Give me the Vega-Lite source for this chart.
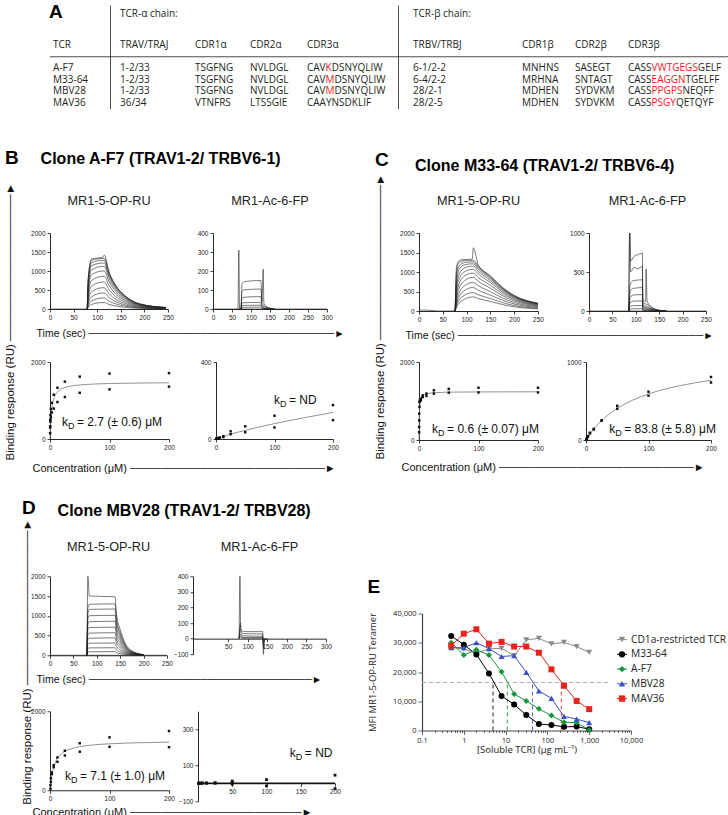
{
  "$schema": "https://vega.github.io/schema/vega-lite/v6.json",
  "padding": {"left": 5, "top": 3, "right": 0, "bottom": 0},
  "spacing": 25,
  "vconcat": [
    {
      "title": {"text": "\u200b", "orient": "bottom", "fontSize": 10, "offset": 4},
      "spacing": 0,
      "bounds": "flush",
      "hconcat": [
        {
          "width": 60, "height": 103.5, "data": {"name": "tcr"},
          "layer": [
            {"transform": [{"filter": "isValid(datum.TCR)"}],
             "mark": {"type": "text", "align": "left", "baseline": "middle", "font": "Open Sans", "fontSize": 10, "color": "#231f20", "dx": 3},
             "encoding": {"x": {"datum": 0, "type": "quantitative", "scale": {"domain": [0, 1]}, "axis": null},
                          "y": {"field": "row", "type": "nominal", "scale": {"type": "point", "domain": ["t", "chain", "g", "name", "line", "A-F7", "M33-64", "MBV28", "MAV36"], "padding": 0.5}, "axis": null},
                          "text": {"field": "TCR"}}},
            {"transform": [{"filter": "isValid(datum.panel)"}],
             "mark": {"type": "text", "align": "left", "baseline": "middle", "font": "Liberation Sans", "fontSize": 19, "fontWeight": "bold", "color": "#000", "dx": -1, "dy": -10},
             "encoding": {"x": {"datum": 0, "type": "quantitative", "scale": {"domain": [0, 1]}, "axis": null},
                          "y": {"field": "row", "type": "nominal", "scale": {"type": "point", "domain": ["t", "chain", "g", "name", "line", "A-F7", "M33-64", "MBV28", "MAV36"], "padding": 0.5}, "axis": null},
                          "text": {"field": "panel"}}},
            {"data": {"values": [{}]}, "mark": {"type": "rule", "color": "#231f20", "strokeWidth": 0.8},
             "encoding": {"y": {"datum": "line", "type": "nominal", "scale": {"type": "point", "domain": ["t", "chain", "g", "name", "line", "A-F7", "M33-64", "MBV28", "MAV36"], "padding": 0.5}, "axis": null}}}
          ]
        },
        {
          "width": 85, "height": 103.5, "data": {"name": "tcr"},
          "layer": [
            {"transform": [{"filter": "isValid(datum.TRAV)"}],
             "mark": {"type": "text", "align": "left", "baseline": "middle", "font": "Open Sans", "fontSize": 10, "color": "#231f20", "dx": 10},
             "encoding": {"x": {"datum": 0, "type": "quantitative", "scale": {"domain": [0, 1]}, "axis": null},
                          "y": {"field": "row", "type": "nominal", "scale": {"type": "point", "domain": ["t", "chain", "g", "name", "line", "A-F7", "M33-64", "MBV28", "MAV36"], "padding": 0.5}, "axis": {"domain": true, "ticks": false, "labels": false, "title": null, "domainColor": "#231f20", "domainWidth": 0.8}},
                          "text": {"field": "TRAV"}}},
            {"transform": [{"filter": "isValid(datum.hdrA)"}],
             "mark": {"type": "text", "align": "left", "baseline": "middle", "font": "Open Sans", "fontSize": 10, "color": "#231f20", "dx": 10, "dy": -8},
             "encoding": {"x": {"datum": 0, "type": "quantitative", "scale": {"domain": [0, 1]}, "axis": null},
                          "y": {"field": "row", "type": "nominal", "scale": {"type": "point", "domain": ["t", "chain", "g", "name", "line", "A-F7", "M33-64", "MBV28", "MAV36"], "padding": 0.5}, "axis": {"domain": true, "ticks": false, "labels": false, "title": null, "domainColor": "#231f20", "domainWidth": 0.8}},
                          "text": {"field": "hdrA"}}},
            {"data": {"values": [{}]}, "mark": {"type": "rule", "color": "#231f20", "strokeWidth": 0.8},
             "encoding": {"y": {"datum": "line", "type": "nominal", "scale": {"type": "point", "domain": ["t", "chain", "g", "name", "line", "A-F7", "M33-64", "MBV28", "MAV36"], "padding": 0.5}, "axis": {"domain": true, "ticks": false, "labels": false, "title": null, "domainColor": "#231f20", "domainWidth": 0.8}}}}
          ]
        },
        {
          "width": 55, "height": 103.5, "data": {"name": "tcr"},
          "layer": [
            {"transform": [{"filter": "isValid(datum.CDR1a)"}],
             "mark": {"type": "text", "align": "left", "baseline": "middle", "font": "Open Sans", "fontSize": 10, "color": "#231f20"},
             "encoding": {"x": {"datum": 0, "type": "quantitative", "scale": {"domain": [0, 1]}, "axis": null},
                          "y": {"field": "row", "type": "nominal", "scale": {"type": "point", "domain": ["t", "chain", "g", "name", "line", "A-F7", "M33-64", "MBV28", "MAV36"], "padding": 0.5}, "axis": null},
                          "text": {"field": "CDR1a"}}},
            {"data": {"values": [{}]}, "mark": {"type": "rule", "color": "#231f20", "strokeWidth": 0.8},
             "encoding": {"y": {"datum": "line", "type": "nominal", "scale": {"type": "point", "domain": ["t", "chain", "g", "name", "line", "A-F7", "M33-64", "MBV28", "MAV36"], "padding": 0.5}, "axis": null}}}
          ]
        },
        {
          "width": 57, "height": 103.5, "data": {"name": "tcr"},
          "layer": [
            {"transform": [{"filter": "isValid(datum.CDR2a)"}],
             "mark": {"type": "text", "align": "left", "baseline": "middle", "font": "Open Sans", "fontSize": 10, "color": "#231f20"},
             "encoding": {"x": {"datum": 0, "type": "quantitative", "scale": {"domain": [0, 1]}, "axis": null},
                          "y": {"field": "row", "type": "nominal", "scale": {"type": "point", "domain": ["t", "chain", "g", "name", "line", "A-F7", "M33-64", "MBV28", "MAV36"], "padding": 0.5}, "axis": null},
                          "text": {"field": "CDR2a"}}},
            {"data": {"values": [{}]}, "mark": {"type": "rule", "color": "#231f20", "strokeWidth": 0.8},
             "encoding": {"y": {"datum": "line", "type": "nominal", "scale": {"type": "point", "domain": ["t", "chain", "g", "name", "line", "A-F7", "M33-64", "MBV28", "MAV36"], "padding": 0.5}, "axis": null}}}
          ]
        },
        {
          "width": 91, "height": 103.5, "data": {"name": "tcr"},
          "layer": [
            {"transform": [{"filter": "isValid(datum.CDR3a)"}],
             "mark": {"type": "text", "align": "left", "baseline": "middle", "font": "Open Sans", "fontSize": 10, "color": "#231f20"},
             "encoding": {"x": {"datum": 0, "type": "quantitative", "scale": {"domain": [0, 1]}, "axis": null},
                          "y": {"field": "row", "type": "nominal", "scale": {"type": "point", "domain": ["t", "chain", "g", "name", "line", "A-F7", "M33-64", "MBV28", "MAV36"], "padding": 0.5}, "axis": null},
                          "text": {"field": "CDR3a"}}},
            {"transform": [{"filter": "isValid(datum.CDR3a_hi)"}],
             "mark": {"type": "text", "align": "left", "baseline": "middle", "font": "Open Sans", "fontSize": 10, "color": "#ffffff", "stroke": "#ffffff", "strokeWidth": 1.4},
             "encoding": {"x": {"datum": 0, "type": "quantitative", "scale": {"domain": [0, 1]}, "axis": null},
                          "y": {"field": "row", "type": "nominal", "scale": {"type": "point", "domain": ["t", "chain", "g", "name", "line", "A-F7", "M33-64", "MBV28", "MAV36"], "padding": 0.5}, "axis": null},
                          "text": {"field": "CDR3a_hi"}}},
            {"transform": [{"filter": "isValid(datum.CDR3a_hi)"}],
             "mark": {"type": "text", "align": "left", "baseline": "middle", "font": "Open Sans", "fontSize": 10, "color": "#ed1c24"},
             "encoding": {"x": {"datum": 0, "type": "quantitative", "scale": {"domain": [0, 1]}, "axis": null},
                          "y": {"field": "row", "type": "nominal", "scale": {"type": "point", "domain": ["t", "chain", "g", "name", "line", "A-F7", "M33-64", "MBV28", "MAV36"], "padding": 0.5}, "axis": null},
                          "text": {"field": "CDR3a_hi"}}},
            {"transform": [{"filter": "isValid(datum.CDR3a_pre)"}],
             "mark": {"type": "text", "align": "left", "baseline": "middle", "font": "Open Sans", "fontSize": 10, "color": "#ffffff", "stroke": "#ffffff", "strokeWidth": 1.4},
             "encoding": {"x": {"datum": 0, "type": "quantitative", "scale": {"domain": [0, 1]}, "axis": null},
                          "y": {"field": "row", "type": "nominal", "scale": {"type": "point", "domain": ["t", "chain", "g", "name", "line", "A-F7", "M33-64", "MBV28", "MAV36"], "padding": 0.5}, "axis": null},
                          "text": {"field": "CDR3a_pre"}}},
            {"transform": [{"filter": "isValid(datum.CDR3a_pre)"}],
             "mark": {"type": "text", "align": "left", "baseline": "middle", "font": "Open Sans", "fontSize": 10, "color": "#231f20"},
             "encoding": {"x": {"datum": 0, "type": "quantitative", "scale": {"domain": [0, 1]}, "axis": null},
                          "y": {"field": "row", "type": "nominal", "scale": {"type": "point", "domain": ["t", "chain", "g", "name", "line", "A-F7", "M33-64", "MBV28", "MAV36"], "padding": 0.5}, "axis": null},
                          "text": {"field": "CDR3a_pre"}}},
            {"data": {"values": [{}]}, "mark": {"type": "rule", "color": "#231f20", "strokeWidth": 0.8},
             "encoding": {"y": {"datum": "line", "type": "nominal", "scale": {"type": "point", "domain": ["t", "chain", "g", "name", "line", "A-F7", "M33-64", "MBV28", "MAV36"], "padding": 0.5}, "axis": null}}}
          ]
        },
        {
          "width": 124, "height": 103.5, "data": {"name": "tcr"},
          "layer": [
            {"transform": [{"filter": "isValid(datum.TRBV)"}],
             "mark": {"type": "text", "align": "left", "baseline": "middle", "font": "Open Sans", "fontSize": 10, "color": "#231f20", "dx": 15},
             "encoding": {"x": {"datum": 0, "type": "quantitative", "scale": {"domain": [0, 1]}, "axis": null},
                          "y": {"field": "row", "type": "nominal", "scale": {"type": "point", "domain": ["t", "chain", "g", "name", "line", "A-F7", "M33-64", "MBV28", "MAV36"], "padding": 0.5}, "axis": {"domain": true, "ticks": false, "labels": false, "title": null, "domainColor": "#231f20", "domainWidth": 0.8}},
                          "text": {"field": "TRBV"}}},
            {"transform": [{"filter": "isValid(datum.hdrB)"}],
             "mark": {"type": "text", "align": "left", "baseline": "middle", "font": "Open Sans", "fontSize": 10, "color": "#231f20", "dx": 15, "dy": -8},
             "encoding": {"x": {"datum": 0, "type": "quantitative", "scale": {"domain": [0, 1]}, "axis": null},
                          "y": {"field": "row", "type": "nominal", "scale": {"type": "point", "domain": ["t", "chain", "g", "name", "line", "A-F7", "M33-64", "MBV28", "MAV36"], "padding": 0.5}, "axis": {"domain": true, "ticks": false, "labels": false, "title": null, "domainColor": "#231f20", "domainWidth": 0.8}},
                          "text": {"field": "hdrB"}}},
            {"data": {"values": [{}]}, "mark": {"type": "rule", "color": "#231f20", "strokeWidth": 0.8},
             "encoding": {"y": {"datum": "line", "type": "nominal", "scale": {"type": "point", "domain": ["t", "chain", "g", "name", "line", "A-F7", "M33-64", "MBV28", "MAV36"], "padding": 0.5}, "axis": {"domain": true, "ticks": false, "labels": false, "title": null, "domainColor": "#231f20", "domainWidth": 0.8}}}}
          ]
        },
        {
          "width": 53, "height": 103.5, "data": {"name": "tcr"},
          "layer": [
            {"transform": [{"filter": "isValid(datum.CDR1b)"}],
             "mark": {"type": "text", "align": "left", "baseline": "middle", "font": "Open Sans", "fontSize": 10, "color": "#231f20"},
             "encoding": {"x": {"datum": 0, "type": "quantitative", "scale": {"domain": [0, 1]}, "axis": null},
                          "y": {"field": "row", "type": "nominal", "scale": {"type": "point", "domain": ["t", "chain", "g", "name", "line", "A-F7", "M33-64", "MBV28", "MAV36"], "padding": 0.5}, "axis": null},
                          "text": {"field": "CDR1b"}}},
            {"data": {"values": [{}]}, "mark": {"type": "rule", "color": "#231f20", "strokeWidth": 0.8},
             "encoding": {"y": {"datum": "line", "type": "nominal", "scale": {"type": "point", "domain": ["t", "chain", "g", "name", "line", "A-F7", "M33-64", "MBV28", "MAV36"], "padding": 0.5}, "axis": null}}}
          ]
        },
        {
          "width": 53, "height": 103.5, "data": {"name": "tcr"},
          "layer": [
            {"transform": [{"filter": "isValid(datum.CDR2b)"}],
             "mark": {"type": "text", "align": "left", "baseline": "middle", "font": "Open Sans", "fontSize": 10, "color": "#231f20"},
             "encoding": {"x": {"datum": 0, "type": "quantitative", "scale": {"domain": [0, 1]}, "axis": null},
                          "y": {"field": "row", "type": "nominal", "scale": {"type": "point", "domain": ["t", "chain", "g", "name", "line", "A-F7", "M33-64", "MBV28", "MAV36"], "padding": 0.5}, "axis": null},
                          "text": {"field": "CDR2b"}}},
            {"data": {"values": [{}]}, "mark": {"type": "rule", "color": "#231f20", "strokeWidth": 0.8},
             "encoding": {"y": {"datum": "line", "type": "nominal", "scale": {"type": "point", "domain": ["t", "chain", "g", "name", "line", "A-F7", "M33-64", "MBV28", "MAV36"], "padding": 0.5}, "axis": null}}}
          ]
        },
        {
          "width": 122, "height": 103.5, "data": {"name": "tcr"},
          "layer": [
            {"transform": [{"filter": "isValid(datum.CDR3b)"}],
             "mark": {"type": "text", "align": "left", "baseline": "middle", "font": "Open Sans", "fontSize": 10, "color": "#231f20"},
             "encoding": {"x": {"datum": 0, "type": "quantitative", "scale": {"domain": [0, 1]}, "axis": null},
                          "y": {"field": "row", "type": "nominal", "scale": {"type": "point", "domain": ["t", "chain", "g", "name", "line", "A-F7", "M33-64", "MBV28", "MAV36"], "padding": 0.5}, "axis": null},
                          "text": {"field": "CDR3b"}}},
            {"transform": [{"filter": "isValid(datum.CDR3b_hi)"}],
             "mark": {"type": "text", "align": "left", "baseline": "middle", "font": "Open Sans", "fontSize": 10, "color": "#ffffff", "stroke": "#ffffff", "strokeWidth": 1.4},
             "encoding": {"x": {"datum": 0, "type": "quantitative", "scale": {"domain": [0, 1]}, "axis": null},
                          "y": {"field": "row", "type": "nominal", "scale": {"type": "point", "domain": ["t", "chain", "g", "name", "line", "A-F7", "M33-64", "MBV28", "MAV36"], "padding": 0.5}, "axis": null},
                          "text": {"field": "CDR3b_hi"}}},
            {"transform": [{"filter": "isValid(datum.CDR3b_hi)"}],
             "mark": {"type": "text", "align": "left", "baseline": "middle", "font": "Open Sans", "fontSize": 10, "color": "#ed1c24"},
             "encoding": {"x": {"datum": 0, "type": "quantitative", "scale": {"domain": [0, 1]}, "axis": null},
                          "y": {"field": "row", "type": "nominal", "scale": {"type": "point", "domain": ["t", "chain", "g", "name", "line", "A-F7", "M33-64", "MBV28", "MAV36"], "padding": 0.5}, "axis": null},
                          "text": {"field": "CDR3b_hi"}}},
            {"transform": [{"filter": "isValid(datum.CDR3b_pre)"}],
             "mark": {"type": "text", "align": "left", "baseline": "middle", "font": "Open Sans", "fontSize": 10, "color": "#ffffff", "stroke": "#ffffff", "strokeWidth": 1.4},
             "encoding": {"x": {"datum": 0, "type": "quantitative", "scale": {"domain": [0, 1]}, "axis": null},
                          "y": {"field": "row", "type": "nominal", "scale": {"type": "point", "domain": ["t", "chain", "g", "name", "line", "A-F7", "M33-64", "MBV28", "MAV36"], "padding": 0.5}, "axis": null},
                          "text": {"field": "CDR3b_pre"}}},
            {"transform": [{"filter": "isValid(datum.CDR3b_pre)"}],
             "mark": {"type": "text", "align": "left", "baseline": "middle", "font": "Open Sans", "fontSize": 10, "color": "#231f20"},
             "encoding": {"x": {"datum": 0, "type": "quantitative", "scale": {"domain": [0, 1]}, "axis": null},
                          "y": {"field": "row", "type": "nominal", "scale": {"type": "point", "domain": ["t", "chain", "g", "name", "line", "A-F7", "M33-64", "MBV28", "MAV36"], "padding": 0.5}, "axis": null},
                          "text": {"field": "CDR3b_pre"}}},
            {"data": {"values": [{}]}, "mark": {"type": "rule", "color": "#231f20", "strokeWidth": 0.8},
             "encoding": {"y": {"datum": "line", "type": "nominal", "scale": {"type": "point", "domain": ["t", "chain", "g", "name", "line", "A-F7", "M33-64", "MBV28", "MAV36"], "padding": 0.5}, "axis": null}}}
          ]
        }
      ]
    },
    {
      "spacing": 30,
      "hconcat": [
        {
          "title": {"text": "B", "subtitle": "\u200b\u00a0\u00a0\u00a0\u00a0\u00a0\u00a0\u00a0\u00a0Clone A-F7 (TRAV1-2/ TRBV6-1)", "anchor": "start", "fontSize": 19, "fontWeight": "bold", "color": "#000", "subtitleFontSize": 16, "subtitleFontWeight": "bold", "subtitleColor": "#000", "subtitleFont": "Liberation Sans", "subtitlePadding": -17, "offset": 15},
          "vconcat": [
            {
              "title": {"text": "Binding response (RU) ──────────────────►", "orient": "left", "anchor": "start", "fontSize": 11.5, "color": "#111", "offset": 14, "dx": 13},
              "spacing": 20,
              "vconcat": [
                {
                  "title": {"text": "Time (sec) ─────────────────────────────────►", "orient": "bottom", "anchor": "start", "fontSize": 10.5, "color": "#111", "offset": 8, "dx": 6},
                  "spacing": 23,
                  "hconcat": [
                    {
                      "title": {"text": "MR1-5-OP-RU", "fontSize": 12.7, "offset": 22, "frame": "group", "color": "#222"},
                      "width": 118, "height": 76, "data": {"name": "sB1"},
                      "mark": {"type": "line", "color": "#222", "strokeWidth": 0.6, "interpolate": "monotone"},
                      "encoding": {
                        "x": {"field": "t", "type": "quantitative", "title": null, "scale": {"domain": [0, 250], "nice": false}, "axis": {"values": [0, 50, 100, 150, 200, 250]}},
                        "y": {"field": "r", "type": "quantitative", "title": null, "scale": {"domain": [0, 2000], "nice": false}, "axis": {"values": [0, 500, 1000, 1500, 2000]}},
                        "detail": {"field": "k", "type": "nominal"}
                      }
                    },
                    {
                      "title": {"text": "MR1-Ac-6-FP", "fontSize": 12.7, "offset": 22, "frame": "group", "color": "#222"},
                      "width": 114, "height": 76, "data": {"name": "sB2"},
                      "mark": {"type": "line", "color": "#222", "strokeWidth": 0.6, "interpolate": "monotone"},
                      "encoding": {
                        "x": {"field": "t", "type": "quantitative", "title": null, "scale": {"domain": [0, 300], "nice": false}, "axis": {"values": [0, 50, 100, 150, 200, 250, 300]}},
                        "y": {"field": "r", "type": "quantitative", "title": null, "scale": {"domain": [0, 400], "nice": false}, "axis": {"values": [0, 100, 200, 300, 400]}},
                        "detail": {"field": "k", "type": "nominal"}
                      }
                    }
                  ]
                },
                {
                  "title": {"text": "Concentration (μM) ─────────────────────────►", "orient": "bottom", "anchor": "start", "fontSize": 11, "color": "#111", "offset": 12, "dx": 2},
                  "spacing": 25,
                  "hconcat": [
                    {
                      "width": 119, "height": 77,
                      "layer": [
                        {"data": {"name": "fB1"}, "mark": {"type": "line", "color": "#777", "strokeWidth": 0.8, "interpolate": "monotone"},
                         "encoding": {"x": {"field": "c", "type": "quantitative", "title": null, "scale": {"domain": [0, 200], "nice": false}, "axis": {"values": [0, 50, 100, 150, 200]}},
                                      "y": {"field": "r", "type": "quantitative", "title": null, "scale": {"domain": [0, 2000], "nice": false}, "axis": {"values": [0, 500, 1000, 1500, 2000]}}}},
                        {"data": {"name": "bB1"}, "mark": {"type": "point", "shape": "square", "filled": true, "size": 6, "color": "#111", "opacity": 1},
                         "encoding": {"x": {"field": "c", "type": "quantitative"}, "y": {"field": "r", "type": "quantitative"}}},
                        {"data": {"values": [{}]}, "mark": {"type": "text", "align": "left", "baseline": "alphabetic", "fontSize": 12},
                         "encoding": {"x": {"datum": 20, "type": "quantitative"}, "y": {"datum": 330, "type": "quantitative"}, "text": {"value": "k"}}},
                        {"data": {"values": [{}]}, "mark": {"type": "text", "align": "left", "baseline": "alphabetic", "fontSize": 9, "dx": 6, "dy": 3},
                         "encoding": {"x": {"datum": 20, "type": "quantitative"}, "y": {"datum": 330, "type": "quantitative"}, "text": {"value": "D"}}},
                        {"data": {"values": [{}]}, "mark": {"type": "text", "align": "left", "baseline": "alphabetic", "fontSize": 12, "dx": 15},
                         "encoding": {"x": {"datum": 20, "type": "quantitative"}, "y": {"datum": 330, "type": "quantitative"}, "text": {"value": "= 2.7 (± 0.6) μM"}}}
                      ]
                    },
                    {
                      "width": 117, "height": 77,
                      "layer": [
                        {"data": {"name": "fB2"}, "mark": {"type": "line", "color": "#777", "strokeWidth": 0.8, "interpolate": "monotone"},
                         "encoding": {"x": {"field": "c", "type": "quantitative", "title": null, "scale": {"domain": [0, 200], "nice": false}, "axis": {"values": [0, 50, 100, 150, 200]}},
                                      "y": {"field": "r", "type": "quantitative", "title": null, "scale": {"domain": [0, 400], "nice": false}, "axis": {"values": [0, 100, 200, 300, 400]}}}},
                        {"data": {"name": "bB2"}, "mark": {"type": "point", "shape": "square", "filled": true, "size": 6, "color": "#111", "opacity": 1},
                         "encoding": {"x": {"field": "c", "type": "quantitative"}, "y": {"field": "r", "type": "quantitative"}}},
                        {"data": {"values": [{}]}, "mark": {"type": "text", "align": "left", "baseline": "alphabetic", "fontSize": 12},
                         "encoding": {"x": {"datum": 99, "type": "quantitative"}, "y": {"datum": 180, "type": "quantitative"}, "text": {"value": "k"}}},
                        {"data": {"values": [{}]}, "mark": {"type": "text", "align": "left", "baseline": "alphabetic", "fontSize": 9, "dx": 6, "dy": 3},
                         "encoding": {"x": {"datum": 99, "type": "quantitative"}, "y": {"datum": 180, "type": "quantitative"}, "text": {"value": "D"}}},
                        {"data": {"values": [{}]}, "mark": {"type": "text", "align": "left", "baseline": "alphabetic", "fontSize": 12, "dx": 15},
                         "encoding": {"x": {"datum": 99, "type": "quantitative"}, "y": {"datum": 180, "type": "quantitative"}, "text": {"value": "= ND"}}}
                      ]
                    }
                  ]
                }
              ]
            }
          ]
        },
        {
          "title": {"text": "C", "subtitle": "\u200b\u00a0\u00a0\u00a0\u00a0\u00a0\u00a0\u00a0\u00a0\u00a0Clone M33-64 (TRAV1-2/ TRBV6-4)", "anchor": "start", "fontSize": 19, "fontWeight": "bold", "color": "#000", "subtitleFontSize": 16, "subtitleFontWeight": "bold", "subtitleColor": "#000", "subtitleFont": "Liberation Sans", "subtitlePadding": -12, "offset": -16},
          "vconcat": [
            {
              "title": {"text": "Binding response (RU) ───────────────────►\u00a0\u00a0\u00a0\u00a0\u00a0\u200b", "orient": "left", "anchor": "start", "fontSize": 11.5, "color": "#111", "offset": 13, "dx": 13},
              "spacing": 18,
              "vconcat": [
                {
                  "title": {"text": "Time (sec) ─────────────────────────────────►", "orient": "bottom", "anchor": "start", "fontSize": 10.5, "color": "#111", "offset": 8, "dx": 6},
                  "spacing": 25,
                  "hconcat": [
                    {
                      "title": {"text": "MR1-5-OP-RU", "fontSize": 12.7, "offset": 22, "frame": "group", "color": "#222"},
                      "width": 119, "height": 78, "data": {"name": "sC1"},
                      "mark": {"type": "line", "color": "#222", "strokeWidth": 0.6, "interpolate": "monotone"},
                      "encoding": {
                        "x": {"field": "t", "type": "quantitative", "title": null, "scale": {"domain": [0, 250], "nice": false}, "axis": {"values": [0, 50, 100, 150, 200, 250]}},
                        "y": {"field": "r", "type": "quantitative", "title": null, "scale": {"domain": [0, 2000], "nice": false}, "axis": {"values": [0, 500, 1000, 1500, 2000]}},
                        "detail": {"field": "k", "type": "nominal"}
                      }
                    },
                    {
                      "title": {"text": "MR1-Ac-6-FP", "fontSize": 12.7, "offset": 22, "frame": "group", "color": "#222"},
                      "width": 117, "height": 78, "data": {"name": "sC2"},
                      "mark": {"type": "line", "color": "#222", "strokeWidth": 0.6, "interpolate": "monotone"},
                      "encoding": {
                        "x": {"field": "t", "type": "quantitative", "title": null, "scale": {"domain": [0, 250], "nice": false}, "axis": {"values": [0, 50, 100, 150, 200, 250]}},
                        "y": {"field": "r", "type": "quantitative", "title": null, "scale": {"domain": [0, 1000], "nice": false}, "axis": {"values": [0, 500, 1000]}},
                        "detail": {"field": "k", "type": "nominal"}
                      }
                    }
                  ]
                },
                {
                  "title": {"text": "Concentration (μM) ─────────────────────────►", "orient": "bottom", "anchor": "start", "fontSize": 11, "color": "#111", "offset": 10, "dx": 2},
                  "spacing": 22,
                  "hconcat": [
                    {
                      "width": 119, "height": 78,
                      "layer": [
                        {"data": {"name": "fC1"}, "mark": {"type": "line", "color": "#777", "strokeWidth": 0.8, "interpolate": "monotone"},
                         "encoding": {"x": {"field": "c", "type": "quantitative", "title": null, "scale": {"domain": [0, 200], "nice": false}, "axis": {"values": [0, 50, 100, 150, 200]}},
                                      "y": {"field": "r", "type": "quantitative", "title": null, "scale": {"domain": [0, 2000], "nice": false}, "axis": {"values": [0, 500, 1000, 1500, 2000]}}}},
                        {"data": {"name": "bC1"}, "mark": {"type": "point", "shape": "square", "filled": true, "size": 6, "color": "#111", "opacity": 1},
                         "encoding": {"x": {"field": "c", "type": "quantitative"}, "y": {"field": "r", "type": "quantitative"}}},
                        {"data": {"values": [{}]}, "mark": {"type": "text", "align": "left", "baseline": "alphabetic", "fontSize": 12},
                         "encoding": {"x": {"datum": 22, "type": "quantitative"}, "y": {"datum": 170, "type": "quantitative"}, "text": {"value": "k"}}},
                        {"data": {"values": [{}]}, "mark": {"type": "text", "align": "left", "baseline": "alphabetic", "fontSize": 9, "dx": 6, "dy": 3},
                         "encoding": {"x": {"datum": 22, "type": "quantitative"}, "y": {"datum": 170, "type": "quantitative"}, "text": {"value": "D"}}},
                        {"data": {"values": [{}]}, "mark": {"type": "text", "align": "left", "baseline": "alphabetic", "fontSize": 12, "dx": 15},
                         "encoding": {"x": {"datum": 22, "type": "quantitative"}, "y": {"datum": 170, "type": "quantitative"}, "text": {"value": "= 0.6 (± 0.07) μM"}}}
                      ]
                    },
                    {
                      "width": 125, "height": 78,
                      "layer": [
                        {"data": {"name": "fC2"}, "mark": {"type": "line", "color": "#777", "strokeWidth": 0.8, "interpolate": "monotone"},
                         "encoding": {"x": {"field": "c", "type": "quantitative", "title": null, "scale": {"domain": [0, 200], "nice": false}, "axis": {"values": [0, 50, 100, 150, 200]}},
                                      "y": {"field": "r", "type": "quantitative", "title": null, "scale": {"domain": [0, 1000], "nice": false}, "axis": {"values": [0, 200, 400, 600, 800, 1000]}}}},
                        {"data": {"name": "bC2"}, "mark": {"type": "point", "shape": "square", "filled": true, "size": 6, "color": "#111", "opacity": 1},
                         "encoding": {"x": {"field": "c", "type": "quantitative"}, "y": {"field": "r", "type": "quantitative"}}},
                        {"data": {"values": [{}]}, "mark": {"type": "text", "align": "left", "baseline": "alphabetic", "fontSize": 12},
                         "encoding": {"x": {"datum": 37, "type": "quantitative"}, "y": {"datum": 85, "type": "quantitative"}, "text": {"value": "k"}}},
                        {"data": {"values": [{}]}, "mark": {"type": "text", "align": "left", "baseline": "alphabetic", "fontSize": 9, "dx": 6, "dy": 3},
                         "encoding": {"x": {"datum": 37, "type": "quantitative"}, "y": {"datum": 85, "type": "quantitative"}, "text": {"value": "D"}}},
                        {"data": {"values": [{}]}, "mark": {"type": "text", "align": "left", "baseline": "alphabetic", "fontSize": 12, "dx": 15},
                         "encoding": {"x": {"datum": 37, "type": "quantitative"}, "y": {"datum": 85, "type": "quantitative"}, "text": {"value": "= 83.8 (± 5.8) μM"}}}
                      ]
                    }
                  ]
                }
              ]
            }
          ]
        }
      ]
    },
    {
      "spacing": 26,
      "center": true,
      "hconcat": [
        {
          "title": {"text": "D", "subtitle": "\u200b\u00a0\u00a0\u00a0\u00a0\u00a0\u00a0\u00a0\u00a0Clone MBV28 (TRAV1-2/ TRBV28)", "anchor": "start", "fontSize": 19, "fontWeight": "bold", "color": "#000", "subtitleFontSize": 16, "subtitleFontWeight": "bold", "subtitleColor": "#000", "subtitleFont": "Liberation Sans", "subtitlePadding": -15, "offset": 0},
          "vconcat": [
            {
              "title": {"text": "Binding response (RU) ───────────────────►", "orient": "left", "anchor": "start", "fontSize": 11.5, "color": "#111", "offset": -3, "dx": 13},
              "spacing": 23,
              "vconcat": [
                {
                  "title": {"text": "Time (sec) ──────────────────────────────►", "orient": "bottom", "anchor": "start", "fontSize": 10.5, "color": "#111", "offset": 8, "dx": 6},
                  "spacing": 0,
                  "hconcat": [
                    {
                      "title": {"text": "MR1-5-OP-RU", "fontSize": 12.7, "offset": 20, "frame": "group", "color": "#222"},
                      "width": 117, "height": 79, "data": {"name": "sD1"},
                      "mark": {"type": "line", "color": "#222", "strokeWidth": 0.6, "interpolate": "monotone"},
                      "encoding": {
                        "x": {"field": "t", "type": "quantitative", "title": null, "scale": {"domain": [0, 250], "nice": false}, "axis": {"values": [0, 50, 100, 150, 200, 250]}},
                        "y": {"field": "r", "type": "quantitative", "title": null, "scale": {"domain": [0, 2000], "nice": false}, "axis": {"values": [0, 500, 1000, 1500, 2000]}},
                        "detail": {"field": "k", "type": "nominal"}
                      }
                    },
                    {
                      "title": {"text": "MR1-Ac-6-FP", "fontSize": 12.7, "offset": 20, "frame": "group", "color": "#222"},
                      "width": 133, "height": 78, "data": {"name": "sD2"},
                      "mark": {"type": "line", "color": "#222", "strokeWidth": 0.6, "interpolate": "monotone"},
                      "encoding": {
                        "x": {"field": "t", "type": "quantitative", "title": null, "scale": {"domain": [-40, 300], "nice": false, "zero": false}, "axis": {"values": [50, 100, 150, 200, 250, 300], "offset": -15.6}},
                        "y": {"field": "r", "type": "quantitative", "title": null, "scale": {"domain": [-100, 400], "nice": false}, "axis": {"values": [-100, 0, 100, 200, 300, 400]}},
                        "detail": {"field": "k", "type": "nominal"}
                      }
                    }
                  ]
                },
                {
                  "title": {"text": "Concentration (μM) ──────────────────────►", "orient": "bottom", "anchor": "start", "fontSize": 11, "color": "#111", "offset": 2, "dx": 2},
                  "spacing": 3,
                  "hconcat": [
                    {
                      "width": 119, "height": 79,
                      "layer": [
                        {"data": {"name": "fD1"}, "mark": {"type": "line", "color": "#777", "strokeWidth": 0.8, "interpolate": "monotone"},
                         "encoding": {"x": {"field": "c", "type": "quantitative", "title": null, "scale": {"domain": [0, 200], "nice": false}, "axis": {"values": [0, 50, 100, 150, 200]}},
                                      "y": {"field": "r", "type": "quantitative", "title": null, "scale": {"domain": [0, 2000], "nice": false}, "axis": {"values": [0, 500, 1000, 1500, 2000]}}}},
                        {"data": {"name": "bD1"}, "mark": {"type": "point", "shape": "square", "filled": true, "size": 6, "color": "#111", "opacity": 1},
                         "encoding": {"x": {"field": "c", "type": "quantitative"}, "y": {"field": "r", "type": "quantitative"}}},
                        {"data": {"values": [{}]}, "mark": {"type": "text", "align": "left", "baseline": "alphabetic", "fontSize": 12},
                         "encoding": {"x": {"datum": 25, "type": "quantitative"}, "y": {"datum": 265, "type": "quantitative"}, "text": {"value": "k"}}},
                        {"data": {"values": [{}]}, "mark": {"type": "text", "align": "left", "baseline": "alphabetic", "fontSize": 9, "dx": 6, "dy": 3},
                         "encoding": {"x": {"datum": 25, "type": "quantitative"}, "y": {"datum": 265, "type": "quantitative"}, "text": {"value": "D"}}},
                        {"data": {"values": [{}]}, "mark": {"type": "text", "align": "left", "baseline": "alphabetic", "fontSize": 12, "dx": 15},
                         "encoding": {"x": {"datum": 25, "type": "quantitative"}, "y": {"datum": 265, "type": "quantitative"}, "text": {"value": "= 7.1 (± 1.0) μM"}}}
                      ]
                    },
                    {
                      "width": 137, "height": 90,
                      "layer": [
                        {"data": {"name": "fD2"}, "mark": {"type": "line", "color": "#111", "strokeWidth": 1.4},
                         "encoding": {"x": {"field": "c", "type": "quantitative", "title": null, "scale": {"domain": [0, 200], "nice": false}, "axis": {"values": [50, 100, 150, 200], "offset": -18}},
                                      "y": {"field": "r", "type": "quantitative", "title": null, "scale": {"domain": [-100, 400], "nice": false}, "axis": {"values": [-100, 0, 100, 200, 300, 400]}}}},
                        {"data": {"name": "bD2"}, "mark": {"type": "point", "shape": "square", "filled": true, "size": 8, "color": "#111", "opacity": 1},
                         "encoding": {"x": {"field": "c", "type": "quantitative"}, "y": {"field": "r", "type": "quantitative"}}},
                        {"data": {"values": [{}]}, "mark": {"type": "text", "align": "left", "baseline": "alphabetic", "fontSize": 12},
                         "encoding": {"x": {"datum": 134, "type": "quantitative"}, "y": {"datum": 147, "type": "quantitative"}, "text": {"value": "k"}}},
                        {"data": {"values": [{}]}, "mark": {"type": "text", "align": "left", "baseline": "alphabetic", "fontSize": 9, "dx": 6, "dy": 3},
                         "encoding": {"x": {"datum": 134, "type": "quantitative"}, "y": {"datum": 147, "type": "quantitative"}, "text": {"value": "D"}}},
                        {"data": {"values": [{}]}, "mark": {"type": "text", "align": "left", "baseline": "alphabetic", "fontSize": 12, "dx": 15},
                         "encoding": {"x": {"datum": 134, "type": "quantitative"}, "y": {"datum": 147, "type": "quantitative"}, "text": {"value": "= ND"}}}
                      ]
                    }
                  ]
                }
              ]
            }
          ]
        },
        {
          "title": {"text": "E", "anchor": "start", "fontSize": 19, "fontWeight": "bold", "color": "#000", "offset": 13},
          "width": 209, "height": 117,
          "resolve": {"scale": {"y": "independent"}},
          "layer": [
            {
              "encoding": {
                "x": {"field": "dose", "type": "quantitative", "title": ["[Soluble TCR] (μg mL⁻¹)", "\u200b"],
                      "scale": {"type": "log", "domain": [0.1, 10000], "nice": false},
                      "axis": {"values": [0.1, 0.2, 0.3, 0.4, 0.5, 0.6, 0.7, 0.8, 0.9, 1, 2, 3, 4, 5, 6, 7, 8, 9, 10, 20, 30, 40, 50, 60, 70, 80, 90, 100, 200, 300, 400, 500, 600, 700, 800, 900, 1000, 2000, 3000, 4000, 5000, 6000, 7000, 8000, 9000, 10000],
                               "labelExpr": "indexof([0.1, 1, 10, 100, 1000, 10000], datum.value) >= 0 ? format(datum.value, ',') : ''",
                               "tickSize": {"condition": {"test": "indexof([0.1, 1, 10, 100, 1000, 10000], datum.value) >= 0", "value": 4}, "value": 2},
                               "labelFont": "Open Sans", "labelFontSize": 7.5, "titleFont": "Open Sans", "titleFontSize": 9.5, "titleFontWeight": "normal", "titleColor": "#222", "titlePadding": 0, "titleLineHeight": 27, "domainColor": "#444", "tickColor": "#444", "domainWidth": 1.2}},
                "y": {"field": "mfi", "type": "quantitative", "title": "MFI MR1-5-OP-RU Teramer",
                      "scale": {"domain": [0, 40000], "nice": false},
                      "axis": {"values": [0, 10000, 20000, 30000, 40000], "labelExpr": "format(datum.value, ',')", "tickSize": 4,
                               "labelFont": "Open Sans", "labelFontSize": 7.5, "titleFont": "Open Sans", "titleFontSize": 9.5, "titleFontWeight": "normal", "titleColor": "#222", "titlePadding": 15, "domainColor": "#444", "tickColor": "#444", "domainWidth": 1.2}}
              },
              "layer": [
                {"data": {"name": "eH"}, "mark": {"type": "rule", "strokeDash": [4, 3], "color": "#b0b0b0", "strokeWidth": 1},
                 "encoding": {"x2": {"field": "dose2"}}},
                {"data": {"name": "eV"}, "mark": {"type": "rule", "strokeDash": [4, 3], "strokeWidth": 1, "opacity": 0.85},
                 "encoding": {"y2": {"field": "mfi2"},
                              "color": {"field": "tcr", "type": "nominal", "scale": {"domain": ["CD1a-restricted TCR", "M33-64", "A-F7", "MBV28", "MAV36"], "range": ["#8a8a8a", "#000000", "#14963c", "#3a4fc0", "#e8221c"]}, "legend": null}}},
                {"data": {"name": "e"}, "mark": {"type": "line", "strokeWidth": 1},
                 "encoding": {"color": {"field": "tcr", "type": "nominal", "scale": {"domain": ["CD1a-restricted TCR", "M33-64", "A-F7", "MBV28", "MAV36"], "range": ["#8a8a8a", "#000000", "#14963c", "#3a4fc0", "#e8221c"]}, "legend": null}}},
                {"data": {"name": "e"}, "mark": {"type": "point", "filled": true, "size": 36, "opacity": 1},
                 "encoding": {
                   "color": {"field": "tcr", "type": "nominal", "scale": {"domain": ["CD1a-restricted TCR", "M33-64", "A-F7", "MBV28", "MAV36"], "range": ["#8a8a8a", "#000000", "#14963c", "#3a4fc0", "#e8221c"]}, "legend": null},
                   "shape": {"field": "tcr", "type": "nominal", "scale": {"domain": ["CD1a-restricted TCR", "M33-64", "A-F7", "MBV28", "MAV36"], "range": ["triangle-down", "circle", "diamond", "triangle-up", "square"]}, "legend": null}
                 }}
              ]
            },
            {
              "data": {"name": "eLegend"},
              "encoding": {
                "y": {"field": "tcr", "type": "nominal", "scale": {"type": "point", "domain": ["", "CD1a-restricted TCR", "M33-64", "A-F7", "MBV28", "MAV36", " ", "  "], "padding": 0.47, "align": 0.82}, "axis": null}
              },
              "layer": [
                {"mark": {"type": "rule", "strokeWidth": 1},
                 "encoding": {"x": {"datum": 4630, "type": "quantitative"}, "x2": {"datum": 8030},
                              "color": {"field": "tcr", "type": "nominal", "scale": {"domain": ["CD1a-restricted TCR", "M33-64", "A-F7", "MBV28", "MAV36"], "range": ["#8a8a8a", "#000000", "#14963c", "#3a4fc0", "#e8221c"]}, "legend": null}}},
                {"mark": {"type": "point", "filled": true, "size": 40, "opacity": 1},
                 "encoding": {"x": {"datum": 6100, "type": "quantitative"},
                              "color": {"field": "tcr", "type": "nominal", "scale": {"domain": ["CD1a-restricted TCR", "M33-64", "A-F7", "MBV28", "MAV36"], "range": ["#8a8a8a", "#000000", "#14963c", "#3a4fc0", "#e8221c"]}, "legend": null},
                              "shape": {"field": "tcr", "type": "nominal", "scale": {"domain": ["CD1a-restricted TCR", "M33-64", "A-F7", "MBV28", "MAV36"], "range": ["triangle-down", "circle", "diamond", "triangle-up", "square"]}, "legend": null}}},
                {"mark": {"type": "text", "align": "left", "baseline": "middle", "dx": 9, "font": "Open Sans", "fontSize": 10.2, "color": "#222"},
                 "encoding": {"x": {"datum": 6100, "type": "quantitative"}, "text": {"field": "tcr"}}}
              ]
            }
          ]
        }
      ]
    }
  ],
  "datasets": {
    "tcr": [
      {"row": "chain", "panel": "A", "hdrA": "TCR-α chain:", "hdrB": "TCR-β chain:"},
      {"row": "name", "TCR": "TCR", "TRAV": "TRAV/TRAJ", "CDR1a": "CDR1α", "CDR2a": "CDR2α", "CDR3a": "CDR3α", "TRBV": "TRBV/TRBJ", "CDR1b": "CDR1β", "CDR2b": "CDR2β", "CDR3b": "CDR3β"},
      {"row": "A-F7", "TCR": "A-F7", "TRAV": "1-2/33", "CDR1a": "TSGFNG", "CDR2a": "NVLDGL", "CDR3a": "CAVKDSNYQLIW", "CDR3a_hi": "CAVK", "CDR3a_pre": "CAV", "TRBV": "6-1/2-2", "CDR1b": "MNHNS", "CDR2b": "SASEGT", "CDR3b": "CASSVWTGEGSGELF", "CDR3b_hi": "CASSVWTGEGS", "CDR3b_pre": "CASS"},
      {"row": "M33-64", "TCR": "M33-64", "TRAV": "1-2/33", "CDR1a": "TSGFNG", "CDR2a": "NVLDGL", "CDR3a": "CAVMDSNYQLIW", "CDR3a_hi": "CAVM", "CDR3a_pre": "CAV", "TRBV": "6-4/2-2", "CDR1b": "MRHNA", "CDR2b": "SNTAGT", "CDR3b": "CASSEAGGNTGELFF", "CDR3b_hi": "CASSEAGGN", "CDR3b_pre": "CASS"},
      {"row": "MBV28", "TCR": "MBV28", "TRAV": "1-2/33", "CDR1a": "TSGFNG", "CDR2a": "NVLDGL", "CDR3a": "CAVMDSNYQLIW", "CDR3a_hi": "CAVM", "CDR3a_pre": "CAV", "TRBV": "28/2-1", "CDR1b": "MDHEN", "CDR2b": "SYDVKM", "CDR3b": "CASSPPGPSNEQFF", "CDR3b_hi": "CASSPPGPS", "CDR3b_pre": "CASS"},
      {"row": "MAV36", "TCR": "MAV36", "TRAV": "36/34", "CDR1a": "VTNFRS", "CDR2a": "LTSSGIE", "CDR3a": "CAAYNSDKLIF", "TRBV": "28/2-5", "CDR1b": "MDHEN", "CDR2b": "SYDVKM", "CDR3b": "CASSPSGYQETQYF", "CDR3b_hi": "CASSPSGY", "CDR3b_pre": "CASS"}
    ],
    "sB1": [
      {"k":0,"t":0,"r":0},{"k":0,"t":79,"r":0},
      {"k":1,"t":79,"r":0},{"k":1,"t":81,"r":820},{"k":1,"t":88,"r":1320},{"k":1,"t":112,"r":1360},{"k":1,"t":115,"r":1420},{"k":1,"t":125,"r":980},{"k":1,"t":140,"r":610},{"k":1,"t":160,"r":340},{"k":1,"t":190,"r":136},{"k":1,"t":245,"r":41},
      {"k":2,"t":79,"r":0},{"k":2,"t":81,"r":780},{"k":2,"t":88,"r":1280},{"k":2,"t":112,"r":1330},{"k":2,"t":115,"r":1330},{"k":2,"t":125,"r":958},{"k":2,"t":140,"r":600},{"k":2,"t":160,"r":333},{"k":2,"t":190,"r":133},{"k":2,"t":245,"r":40},
      {"k":3,"t":79,"r":0},{"k":3,"t":81,"r":720},{"k":3,"t":88,"r":1220},{"k":3,"t":112,"r":1280},{"k":3,"t":115,"r":1280},{"k":3,"t":125,"r":920},{"k":3,"t":140,"r":576},{"k":3,"t":160,"r":320},{"k":3,"t":190,"r":128},{"k":3,"t":245,"r":38},
      {"k":4,"t":79,"r":0},{"k":4,"t":81,"r":640},{"k":4,"t":88,"r":1140},{"k":4,"t":112,"r":1210},{"k":4,"t":115,"r":1210},{"k":4,"t":125,"r":870},{"k":4,"t":140,"r":545},{"k":4,"t":160,"r":303},{"k":4,"t":190,"r":121},{"k":4,"t":245,"r":36},
      {"k":5,"t":79,"r":0},{"k":5,"t":81,"r":560},{"k":5,"t":88,"r":1030},{"k":5,"t":112,"r":1120},{"k":5,"t":115,"r":1120},{"k":5,"t":125,"r":806},{"k":5,"t":140,"r":504},{"k":5,"t":160,"r":280},{"k":5,"t":190,"r":112},{"k":5,"t":245,"r":34},
      {"k":6,"t":79,"r":0},{"k":6,"t":81,"r":460},{"k":6,"t":88,"r":900},{"k":6,"t":112,"r":1000},{"k":6,"t":115,"r":1000},{"k":6,"t":125,"r":720},{"k":6,"t":140,"r":450},{"k":6,"t":160,"r":250},{"k":6,"t":190,"r":100},{"k":6,"t":245,"r":30},
      {"k":7,"t":79,"r":0},{"k":7,"t":81,"r":360},{"k":7,"t":88,"r":750},{"k":7,"t":112,"r":860},{"k":7,"t":115,"r":860},{"k":7,"t":125,"r":620},{"k":7,"t":140,"r":387},{"k":7,"t":160,"r":215},{"k":7,"t":190,"r":86},{"k":7,"t":245,"r":26},
      {"k":8,"t":79,"r":0},{"k":8,"t":81,"r":270},{"k":8,"t":88,"r":600},{"k":8,"t":112,"r":710},{"k":8,"t":115,"r":710},{"k":8,"t":125,"r":511},{"k":8,"t":140,"r":320},{"k":8,"t":160,"r":178},{"k":8,"t":190,"r":71},{"k":8,"t":245,"r":21},
      {"k":9,"t":79,"r":0},{"k":9,"t":81,"r":190},{"k":9,"t":88,"r":450},{"k":9,"t":112,"r":560},{"k":9,"t":115,"r":560},{"k":9,"t":125,"r":403},{"k":9,"t":140,"r":252},{"k":9,"t":160,"r":140},{"k":9,"t":190,"r":56},{"k":9,"t":245,"r":17},
      {"k":10,"t":79,"r":0},{"k":10,"t":81,"r":130},{"k":10,"t":88,"r":320},{"k":10,"t":112,"r":420},{"k":10,"t":115,"r":420},{"k":10,"t":125,"r":302},{"k":10,"t":140,"r":189},{"k":10,"t":160,"r":105},{"k":10,"t":190,"r":42},{"k":10,"t":245,"r":13},
      {"k":11,"t":79,"r":0},{"k":11,"t":81,"r":80},{"k":11,"t":88,"r":210},{"k":11,"t":112,"r":290},{"k":11,"t":115,"r":290},{"k":11,"t":125,"r":209},{"k":11,"t":140,"r":131},{"k":11,"t":160,"r":73},{"k":11,"t":190,"r":29},{"k":11,"t":245,"r":9},
      {"k":12,"t":79,"r":0},{"k":12,"t":81,"r":45},{"k":12,"t":88,"r":120},{"k":12,"t":112,"r":170},{"k":12,"t":115,"r":170},{"k":12,"t":125,"r":122},{"k":12,"t":140,"r":77},{"k":12,"t":160,"r":43},{"k":12,"t":190,"r":17},{"k":12,"t":245,"r":5}
    ],
    "sB2": [
      {"k":0,"t":0,"r":0},{"k":0,"t":300,"r":0},
      {"k":1,"t":66,"r":0},{"k":1,"t":68,"r":310},{"k":1,"t":70,"r":0},{"k":1,"t":74,"r":0},{"k":1,"t":76,"r":128},{"k":1,"t":82,"r":144},{"k":1,"t":126,"r":150},{"k":1,"t":129,"r":40},{"k":1,"t":132,"r":210},{"k":1,"t":134,"r":30},{"k":1,"t":145,"r":8},{"k":1,"t":165,"r":0},
      {"k":2,"t":74,"r":0},{"k":2,"t":76,"r":90},{"k":2,"t":82,"r":101},{"k":2,"t":126,"r":105},{"k":2,"t":129,"r":30},{"k":2,"t":140,"r":10},{"k":2,"t":160,"r":0},
      {"k":3,"t":74,"r":0},{"k":3,"t":76,"r":55},{"k":3,"t":82,"r":62},{"k":3,"t":126,"r":65},{"k":3,"t":129,"r":20},{"k":3,"t":140,"r":6},{"k":3,"t":160,"r":0},
      {"k":4,"t":74,"r":0},{"k":4,"t":76,"r":30},{"k":4,"t":82,"r":33},{"k":4,"t":126,"r":35},{"k":4,"t":129,"r":10},{"k":4,"t":140,"r":3},{"k":4,"t":160,"r":0},
      {"k":5,"t":74,"r":0},{"k":5,"t":76,"r":17},{"k":5,"t":82,"r":19},{"k":5,"t":126,"r":20},{"k":5,"t":129,"r":6},{"k":5,"t":140,"r":2},{"k":5,"t":160,"r":0},
      {"k":6,"t":74,"r":0},{"k":6,"t":76,"r":8},{"k":6,"t":82,"r":9},{"k":6,"t":126,"r":10},{"k":6,"t":129,"r":3},{"k":6,"t":140,"r":1},{"k":6,"t":160,"r":0}
    ],
    "sC1": [
      {"k":0,"t":0,"r":20},{"k":0,"t":10,"r":25},{"k":0,"t":30,"r":10},{"k":0,"t":40,"r":0},{"k":0,"t":76,"r":0},
      {"k":1,"t":76,"r":0},{"k":1,"t":79,"r":1150},{"k":1,"t":85,"r":1300},{"k":1,"t":95,"r":1320},{"k":1,"t":112,"r":1330},{"k":1,"t":114,"r":1620},{"k":1,"t":125,"r":1170},{"k":1,"t":150,"r":900},{"k":1,"t":175,"r":610},{"k":1,"t":200,"r":400},{"k":1,"t":250,"r":200},
      {"k":2,"t":76,"r":0},{"k":2,"t":79,"r":1050},{"k":2,"t":85,"r":1250},{"k":2,"t":95,"r":1290},{"k":2,"t":112,"r":1300},{"k":2,"t":114,"r":1300},{"k":2,"t":125,"r":1144},{"k":2,"t":150,"r":884},{"k":2,"t":175,"r":598},{"k":2,"t":200,"r":390},{"k":2,"t":250,"r":195},
      {"k":3,"t":76,"r":0},{"k":3,"t":79,"r":900},{"k":3,"t":85,"r":1170},{"k":3,"t":95,"r":1240},{"k":3,"t":112,"r":1260},{"k":3,"t":114,"r":1260},{"k":3,"t":125,"r":1109},{"k":3,"t":150,"r":857},{"k":3,"t":175,"r":580},{"k":3,"t":200,"r":378},{"k":3,"t":250,"r":189},
      {"k":4,"t":76,"r":0},{"k":4,"t":79,"r":760},{"k":4,"t":85,"r":1080},{"k":4,"t":95,"r":1180},{"k":4,"t":112,"r":1210},{"k":4,"t":114,"r":1210},{"k":4,"t":125,"r":1065},{"k":4,"t":150,"r":823},{"k":4,"t":175,"r":557},{"k":4,"t":200,"r":363},{"k":4,"t":250,"r":182},
      {"k":5,"t":76,"r":0},{"k":5,"t":79,"r":620},{"k":5,"t":85,"r":960},{"k":5,"t":95,"r":1100},{"k":5,"t":112,"r":1150},{"k":5,"t":114,"r":1150},{"k":5,"t":125,"r":1012},{"k":5,"t":150,"r":782},{"k":5,"t":175,"r":529},{"k":5,"t":200,"r":345},{"k":5,"t":250,"r":173},
      {"k":6,"t":76,"r":0},{"k":6,"t":79,"r":500},{"k":6,"t":85,"r":840},{"k":6,"t":95,"r":1000},{"k":6,"t":112,"r":1070},{"k":6,"t":114,"r":1070},{"k":6,"t":125,"r":942},{"k":6,"t":150,"r":728},{"k":6,"t":175,"r":492},{"k":6,"t":200,"r":321},{"k":6,"t":250,"r":161},
      {"k":7,"t":76,"r":0},{"k":7,"t":79,"r":400},{"k":7,"t":85,"r":720},{"k":7,"t":95,"r":890},{"k":7,"t":112,"r":970},{"k":7,"t":114,"r":970},{"k":7,"t":125,"r":854},{"k":7,"t":150,"r":660},{"k":7,"t":175,"r":446},{"k":7,"t":200,"r":291},{"k":7,"t":250,"r":146},
      {"k":8,"t":76,"r":0},{"k":8,"t":79,"r":320},{"k":8,"t":85,"r":600},{"k":8,"t":95,"r":770},{"k":8,"t":112,"r":860},{"k":8,"t":114,"r":860},{"k":8,"t":125,"r":757},{"k":8,"t":150,"r":585},{"k":8,"t":175,"r":396},{"k":8,"t":200,"r":258},{"k":8,"t":250,"r":129},
      {"k":9,"t":76,"r":0},{"k":9,"t":79,"r":250},{"k":9,"t":85,"r":480},{"k":9,"t":95,"r":640},{"k":9,"t":112,"r":730},{"k":9,"t":114,"r":730},{"k":9,"t":125,"r":642},{"k":9,"t":150,"r":496},{"k":9,"t":175,"r":336},{"k":9,"t":200,"r":219},{"k":9,"t":250,"r":110},
      {"k":10,"t":76,"r":0},{"k":10,"t":79,"r":190},{"k":10,"t":85,"r":380},{"k":10,"t":95,"r":520},{"k":10,"t":112,"r":600},{"k":10,"t":114,"r":600},{"k":10,"t":125,"r":528},{"k":10,"t":150,"r":408},{"k":10,"t":175,"r":276},{"k":10,"t":200,"r":180},{"k":10,"t":250,"r":90},
      {"k":11,"t":76,"r":0},{"k":11,"t":79,"r":140},{"k":11,"t":85,"r":290},{"k":11,"t":95,"r":400},{"k":11,"t":112,"r":470},{"k":11,"t":114,"r":470},{"k":11,"t":125,"r":414},{"k":11,"t":150,"r":320},{"k":11,"t":175,"r":216},{"k":11,"t":200,"r":141},{"k":11,"t":250,"r":70},
      {"k":12,"t":76,"r":0},{"k":12,"t":79,"r":100},{"k":12,"t":85,"r":210},{"k":12,"t":95,"r":300},{"k":12,"t":112,"r":360},{"k":12,"t":114,"r":360},{"k":12,"t":125,"r":317},{"k":12,"t":150,"r":245},{"k":12,"t":175,"r":166},{"k":12,"t":200,"r":108},{"k":12,"t":250,"r":54}
    ],
    "sC2": [
      {"k":0,"t":0,"r":0},{"k":0,"t":250,"r":0},
      {"k":1,"t":85,"r":0},{"k":1,"t":87,"r":1000},{"k":1,"t":89,"r":640},{"k":1,"t":95,"r":690},{"k":1,"t":105,"r":725},{"k":1,"t":114,"r":740},{"k":1,"t":115,"r":150},{"k":1,"t":121,"r":120},{"k":1,"t":122,"r":540},{"k":1,"t":124,"r":130},{"k":1,"t":132,"r":60},{"k":1,"t":145,"r":15},{"k":1,"t":165,"r":0},
      {"k":2,"t":85,"r":0},{"k":2,"t":87,"r":1000},{"k":2,"t":89,"r":500},{"k":2,"t":96,"r":560},{"k":2,"t":104,"r":540},{"k":2,"t":114,"r":570},{"k":2,"t":115,"r":110},{"k":2,"t":125,"r":80},{"k":2,"t":135,"r":40},{"k":2,"t":150,"r":10},{"k":2,"t":165,"r":0},
      {"k":3,"t":85,"r":0},{"k":3,"t":88,"r":340},{"k":3,"t":95,"r":390},{"k":3,"t":114,"r":400},{"k":3,"t":115,"r":80},{"k":3,"t":125,"r":55},{"k":3,"t":135,"r":28},{"k":3,"t":150,"r":7},{"k":3,"t":165,"r":0},
      {"k":4,"t":85,"r":0},{"k":4,"t":88,"r":250},{"k":4,"t":95,"r":290},{"k":4,"t":114,"r":300},{"k":4,"t":115,"r":60},{"k":4,"t":125,"r":40},{"k":4,"t":135,"r":20},{"k":4,"t":150,"r":5},{"k":4,"t":165,"r":0},
      {"k":5,"t":85,"r":0},{"k":5,"t":88,"r":175},{"k":5,"t":95,"r":205},{"k":5,"t":114,"r":210},{"k":5,"t":115,"r":45},{"k":5,"t":125,"r":30},{"k":5,"t":135,"r":15},{"k":5,"t":150,"r":4},{"k":5,"t":165,"r":0},
      {"k":6,"t":85,"r":0},{"k":6,"t":88,"r":110},{"k":6,"t":95,"r":127},{"k":6,"t":114,"r":130},{"k":6,"t":115,"r":28},{"k":6,"t":125,"r":19},{"k":6,"t":135,"r":9},{"k":6,"t":150,"r":2},{"k":6,"t":165,"r":0},
      {"k":7,"t":85,"r":0},{"k":7,"t":88,"r":60},{"k":7,"t":95,"r":68},{"k":7,"t":114,"r":70},{"k":7,"t":115,"r":15},{"k":7,"t":125,"r":10},{"k":7,"t":135,"r":5},{"k":7,"t":150,"r":1},{"k":7,"t":165,"r":0},
      {"k":8,"t":85,"r":0},{"k":8,"t":88,"r":25},{"k":8,"t":95,"r":29},{"k":8,"t":114,"r":30},{"k":8,"t":115,"r":7},{"k":8,"t":125,"r":4},{"k":8,"t":135,"r":2},{"k":8,"t":150,"r":0},{"k":8,"t":165,"r":0}
    ],
    "sD1": [
      {"k":0,"t":0,"r":0},{"k":0,"t":250,"r":0},
      {"k":1,"t":79,"r":0},{"k":1,"t":81,"r":2000},{"k":1,"t":84,"r":1500},{"k":1,"t":139,"r":1480},{"k":1,"t":142,"r":1050},{"k":1,"t":150,"r":650},{"k":1,"t":160,"r":320},{"k":1,"t":175,"r":110},{"k":1,"t":200,"r":15},
      {"k":2,"t":79,"r":0},{"k":2,"t":81,"r":1200},{"k":2,"t":84,"r":1290},{"k":2,"t":139,"r":1300},{"k":2,"t":142,"r":920},{"k":2,"t":150,"r":570},{"k":2,"t":160,"r":280},{"k":2,"t":175,"r":95},{"k":2,"t":200,"r":13},
      {"k":3,"t":79,"r":0},{"k":3,"t":81,"r":1080},{"k":3,"t":84,"r":1160},{"k":3,"t":139,"r":1170},{"k":3,"t":142,"r":830},{"k":3,"t":150,"r":515},{"k":3,"t":160,"r":255},{"k":3,"t":175,"r":85},{"k":3,"t":200,"r":12},
      {"k":4,"t":79,"r":0},{"k":4,"t":81,"r":930},{"k":4,"t":84,"r":1000},{"k":4,"t":139,"r":1010},{"k":4,"t":142,"r":717},{"k":4,"t":150,"r":444},{"k":4,"t":160,"r":220},{"k":4,"t":175,"r":73},{"k":4,"t":200,"r":10},
      {"k":5,"t":79,"r":0},{"k":5,"t":81,"r":790},{"k":5,"t":84,"r":850},{"k":5,"t":139,"r":860},{"k":5,"t":142,"r":610},{"k":5,"t":150,"r":378},{"k":5,"t":160,"r":187},{"k":5,"t":175,"r":62},{"k":5,"t":200,"r":9},
      {"k":6,"t":79,"r":0},{"k":6,"t":81,"r":650},{"k":6,"t":84,"r":700},{"k":6,"t":139,"r":710},{"k":6,"t":142,"r":504},{"k":6,"t":150,"r":312},{"k":6,"t":160,"r":155},{"k":6,"t":175,"r":52},{"k":6,"t":200,"r":7},
      {"k":7,"t":79,"r":0},{"k":7,"t":81,"r":520},{"k":7,"t":84,"r":560},{"k":7,"t":139,"r":570},{"k":7,"t":142,"r":405},{"k":7,"t":150,"r":250},{"k":7,"t":160,"r":124},{"k":7,"t":175,"r":41},{"k":7,"t":200,"r":6},
      {"k":8,"t":79,"r":0},{"k":8,"t":81,"r":400},{"k":8,"t":84,"r":430},{"k":8,"t":139,"r":440},{"k":8,"t":142,"r":312},{"k":8,"t":150,"r":194},{"k":8,"t":160,"r":96},{"k":8,"t":175,"r":32},{"k":8,"t":200,"r":4},
      {"k":9,"t":79,"r":0},{"k":9,"t":81,"r":280},{"k":9,"t":84,"r":305},{"k":9,"t":139,"r":310},{"k":9,"t":142,"r":220},{"k":9,"t":150,"r":136},{"k":9,"t":160,"r":68},{"k":9,"t":175,"r":23},{"k":9,"t":200,"r":3},
      {"k":10,"t":79,"r":0},{"k":10,"t":81,"r":170},{"k":10,"t":84,"r":186},{"k":10,"t":139,"r":190},{"k":10,"t":142,"r":135},{"k":10,"t":150,"r":84},{"k":10,"t":160,"r":41},{"k":10,"t":175,"r":14},{"k":10,"t":200,"r":2},
      {"k":11,"t":79,"r":0},{"k":11,"t":81,"r":80},{"k":11,"t":84,"r":88},{"k":11,"t":139,"r":90},{"k":11,"t":142,"r":64},{"k":11,"t":150,"r":40},{"k":11,"t":160,"r":20},{"k":11,"t":175,"r":7},{"k":11,"t":200,"r":1}
    ],
    "sD2": [
      {"k":1,"t":78,"r":0},{"k":1,"t":80,"r":400},{"k":1,"t":82,"r":60},{"k":1,"t":90,"r":45},{"k":1,"t":138,"r":45},{"k":1,"t":140,"r":-100},{"k":1,"t":142,"r":-10},{"k":1,"t":150,"r":0},
      {"k":2,"t":78,"r":0},{"k":2,"t":81,"r":100},{"k":2,"t":84,"r":40},{"k":2,"t":90,"r":32},{"k":2,"t":138,"r":30},{"k":2,"t":140,"r":-60},{"k":2,"t":142,"r":-5},{"k":2,"t":150,"r":0},
      {"k":3,"t":78,"r":0},{"k":3,"t":80,"r":60},{"k":3,"t":85,"r":18},{"k":3,"t":138,"r":15},{"k":3,"t":140,"r":-40},{"k":3,"t":143,"r":0},
      {"k":4,"t":78,"r":0},{"k":4,"t":80,"r":30},{"k":4,"t":85,"r":8},{"k":4,"t":138,"r":8},{"k":4,"t":140,"r":-20},{"k":4,"t":143,"r":0},
      {"k":5,"t":78,"r":0},{"k":5,"t":80,"r":15},{"k":5,"t":85,"r":3},{"k":5,"t":138,"r":3},{"k":5,"t":140,"r":-10},{"k":5,"t":143,"r":0}
    ],
    "bB1": [
      {"c":0.195,"r":300},{"c":0.195,"r":150},{"c":0.39,"r":500},{"c":0.39,"r":330},{"c":0.78,"r":620},{"c":0.78,"r":450},{"c":1.56,"r":780},{"c":1.56,"r":560},{"c":3.125,"r":940},{"c":3.125,"r":690},{"c":6.25,"r":1150},{"c":6.25,"r":790},{"c":12.5,"r":1330},{"c":12.5,"r":960},{"c":25,"r":1490},{"c":25,"r":1090},{"c":50,"r":1620},{"c":50,"r":1200},{"c":100,"r":1700},{"c":100,"r":1290},{"c":200,"r":1710},{"c":200,"r":1360}
    ],
    "fB1": [
      {"c":0,"r":0},{"c":0.5,"r":231},{"c":1,"r":400},{"c":2,"r":630},{"c":4,"r":884},{"c":8,"r":1107},{"c":15,"r":1254},{"c":25,"r":1336},{"c":50,"r":1404},{"c":100,"r":1441},{"c":200,"r":1460}
    ],
    "bB2": [
      {"c":0.78,"r":2},{"c":0.78,"r":1},{"c":1.56,"r":3},{"c":1.56,"r":2},{"c":3.125,"r":5},{"c":3.125,"r":3},{"c":6.25,"r":8},{"c":6.25,"r":5},{"c":12.5,"r":15},{"c":12.5,"r":10},{"c":25,"r":40},{"c":25,"r":25},{"c":50,"r":66},{"c":50,"r":35},{"c":100,"r":121},{"c":100,"r":60},{"c":200,"r":176},{"c":200,"r":98}
    ],
    "fB2": [
      {"c":0,"r":0},{"c":25,"r":25},{"c":50,"r":45},{"c":100,"r":80},{"c":150,"r":110},{"c":200,"r":138}
    ],
    "bC1": [
      {"c":0.195,"r":333},{"c":0.195,"r":200},{"c":0.39,"r":675},{"c":0.39,"r":500},{"c":0.78,"r":975},{"c":0.78,"r":850},{"c":1.56,"r":1020},{"c":1.56,"r":1000},{"c":3.125,"r":1060},{"c":3.125,"r":1020},{"c":6.25,"r":1145},{"c":6.25,"r":1100},{"c":12.5,"r":1190},{"c":12.5,"r":1130},{"c":25,"r":1275},{"c":25,"r":1190},{"c":50,"r":1310},{"c":50,"r":1215},{"c":100,"r":1340},{"c":100,"r":1220},{"c":200,"r":1340},{"c":200,"r":1220}
    ],
    "fC1": [
      {"c":0,"r":0},{"c":0.25,"r":365},{"c":0.5,"r":564},{"c":1,"r":775},{"c":2,"r":954},{"c":4,"r":1078},{"c":8,"r":1153},{"c":15,"r":1192},{"c":30,"r":1216},{"c":60,"r":1228},{"c":100,"r":1233},{"c":200,"r":1236}
    ],
    "bC2": [
      {"c":0.78,"r":8},{"c":0.78,"r":5},{"c":1.56,"r":25},{"c":1.56,"r":20},{"c":3.125,"r":50},{"c":3.125,"r":45},{"c":6.25,"r":93},{"c":6.25,"r":85},{"c":12.5,"r":143},{"c":12.5,"r":135},{"c":25,"r":253},{"c":25,"r":248},{"c":50,"r":438},{"c":50,"r":400},{"c":100,"r":619},{"c":100,"r":568},{"c":200,"r":808},{"c":200,"r":737}
    ],
    "fC2": [
      {"c":0,"r":0},{"c":10,"r":116},{"c":25,"r":249},{"c":50,"r":405},{"c":75,"r":512},{"c":100,"r":590},{"c":150,"r":696},{"c":200,"r":765}
    ],
    "bD1": [
      {"c":0.78,"r":130},{"c":0.78,"r":40},{"c":1.56,"r":300},{"c":1.56,"r":210},{"c":3.125,"r":450},{"c":3.125,"r":410},{"c":6.25,"r":635},{"c":6.25,"r":585},{"c":12.5,"r":830},{"c":12.5,"r":720},{"c":25,"r":1000},{"c":25,"r":880},{"c":50,"r":1190},{"c":50,"r":975},{"c":100,"r":1340},{"c":100,"r":1100},{"c":200,"r":1500},{"c":200,"r":1090}
    ],
    "fD1": [
      {"c":0,"r":0},{"c":2,"r":277},{"c":5,"r":521},{"c":10,"r":737},{"c":20,"r":930},{"c":35,"r":1047},{"c":50,"r":1103},{"c":75,"r":1151},{"c":100,"r":1176},{"c":150,"r":1203},{"c":200,"r":1217}
    ],
    "bD2": [
      {"c":0.78,"r":0},{"c":1.56,"r":0},{"c":3.125,"r":0},{"c":3.125,"r":1},{"c":6.25,"r":0},{"c":6.25,"r":2},{"c":12.5,"r":2},{"c":12.5,"r":0},{"c":25,"r":3},{"c":25,"r":0},{"c":50,"r":12},{"c":50,"r":5},{"c":50,"r":-5},{"c":100,"r":20},{"c":100,"r":-15},{"c":200,"r":45},{"c":200,"r":-30}
    ],
    "fD2": [
      {"c":0,"r":0},{"c":200,"r":0}
    ],
    "e": [
      {"tcr":"CD1a-restricted TCR","dose":0.5,"mfi":28400},{"tcr":"CD1a-restricted TCR","dose":1,"mfi":27900},{"tcr":"CD1a-restricted TCR","dose":2,"mfi":26400},{"tcr":"CD1a-restricted TCR","dose":4,"mfi":27900},{"tcr":"CD1a-restricted TCR","dose":8,"mfi":28100},{"tcr":"CD1a-restricted TCR","dose":16,"mfi":25600},{"tcr":"CD1a-restricted TCR","dose":31.25,"mfi":31000},{"tcr":"CD1a-restricted TCR","dose":62.5,"mfi":31500},{"tcr":"CD1a-restricted TCR","dose":125,"mfi":29600},{"tcr":"CD1a-restricted TCR","dose":250,"mfi":30100},{"tcr":"CD1a-restricted TCR","dose":500,"mfi":28700},{"tcr":"CD1a-restricted TCR","dose":1000,"mfi":26700},
      {"tcr":"M33-64","dose":0.5,"mfi":32350},{"tcr":"M33-64","dose":1,"mfi":29300},{"tcr":"M33-64","dose":2,"mfi":26000},{"tcr":"M33-64","dose":4,"mfi":19500},{"tcr":"M33-64","dose":8,"mfi":11800},{"tcr":"M33-64","dose":16,"mfi":8900},{"tcr":"M33-64","dose":31.25,"mfi":5300},{"tcr":"M33-64","dose":62.5,"mfi":2200},{"tcr":"M33-64","dose":125,"mfi":1900},{"tcr":"M33-64","dose":250,"mfi":1250},{"tcr":"M33-64","dose":500,"mfi":1350},{"tcr":"M33-64","dose":1000,"mfi":450},
      {"tcr":"A-F7","dose":0.5,"mfi":30000},{"tcr":"A-F7","dose":1,"mfi":25800},{"tcr":"A-F7","dose":2,"mfi":27600},{"tcr":"A-F7","dose":4,"mfi":25800},{"tcr":"A-F7","dose":8,"mfi":20100},{"tcr":"A-F7","dose":16,"mfi":12500},{"tcr":"A-F7","dose":31.25,"mfi":10100},{"tcr":"A-F7","dose":62.5,"mfi":7400},{"tcr":"A-F7","dose":125,"mfi":5100},{"tcr":"A-F7","dose":250,"mfi":2800},{"tcr":"A-F7","dose":500,"mfi":2700},{"tcr":"A-F7","dose":1000,"mfi":200},
      {"tcr":"MBV28","dose":0.5,"mfi":28300},{"tcr":"MBV28","dose":1,"mfi":28300},{"tcr":"MBV28","dose":2,"mfi":30000},{"tcr":"MBV28","dose":4,"mfi":28000},{"tcr":"MBV28","dose":8,"mfi":25300},{"tcr":"MBV28","dose":16,"mfi":25600},{"tcr":"MBV28","dose":31.25,"mfi":19900},{"tcr":"MBV28","dose":62.5,"mfi":13500},{"tcr":"MBV28","dose":125,"mfi":11000},{"tcr":"MBV28","dose":250,"mfi":4800},{"tcr":"MBV28","dose":500,"mfi":3900},{"tcr":"MBV28","dose":1000,"mfi":2700},
      {"tcr":"MAV36","dose":0.5,"mfi":29000},{"tcr":"MAV36","dose":1,"mfi":33100},{"tcr":"MAV36","dose":2,"mfi":34600},{"tcr":"MAV36","dose":4,"mfi":29700},{"tcr":"MAV36","dose":8,"mfi":30300},{"tcr":"MAV36","dose":16,"mfi":28700},{"tcr":"MAV36","dose":31.25,"mfi":28700},{"tcr":"MAV36","dose":62.5,"mfi":26600},{"tcr":"MAV36","dose":125,"mfi":20900},{"tcr":"MAV36","dose":250,"mfi":15300},{"tcr":"MAV36","dose":500,"mfi":10100},{"tcr":"MAV36","dose":1000,"mfi":7300}
    ],
    "eLegend": [
      {"tcr":"CD1a-restricted TCR"},{"tcr":"M33-64"},{"tcr":"A-F7"},{"tcr":"MBV28"},{"tcr":"MAV36"}
    ],
    "eH": [
      {"dose":0.1,"dose2":3100,"mfi":16400}
    ],
    "eV": [
      {"tcr":"M33-64","dose":5,"mfi":0,"mfi2":16400},
      {"tcr":"A-F7","dose":11,"mfi":0,"mfi2":16400},
      {"tcr":"MBV28","dose":44,"mfi":0,"mfi2":16400},
      {"tcr":"MAV36","dose":215,"mfi":0,"mfi2":16400}
    ]
  },
  "config": {
    "font": "Liberation Sans",
    "numberFormat": "d",
    "view": {"stroke": null},
    "axis": {"labelFontSize": 6.5, "labelColor": "#222", "labelPadding": 2, "labelFlush": false, "labelOverlap": false, "labelBound": false, "tickSize": 3, "tickColor": "#111", "domainColor": "#111", "tickWidth": 0.8, "domainWidth": 0.9, "grid": false, "minExtent": 0},
    "title": {"color": "#111", "fontWeight": "normal", "font": "Liberation Sans"},
    "text": {"font": "Liberation Sans", "color": "#111"}
  }
}
